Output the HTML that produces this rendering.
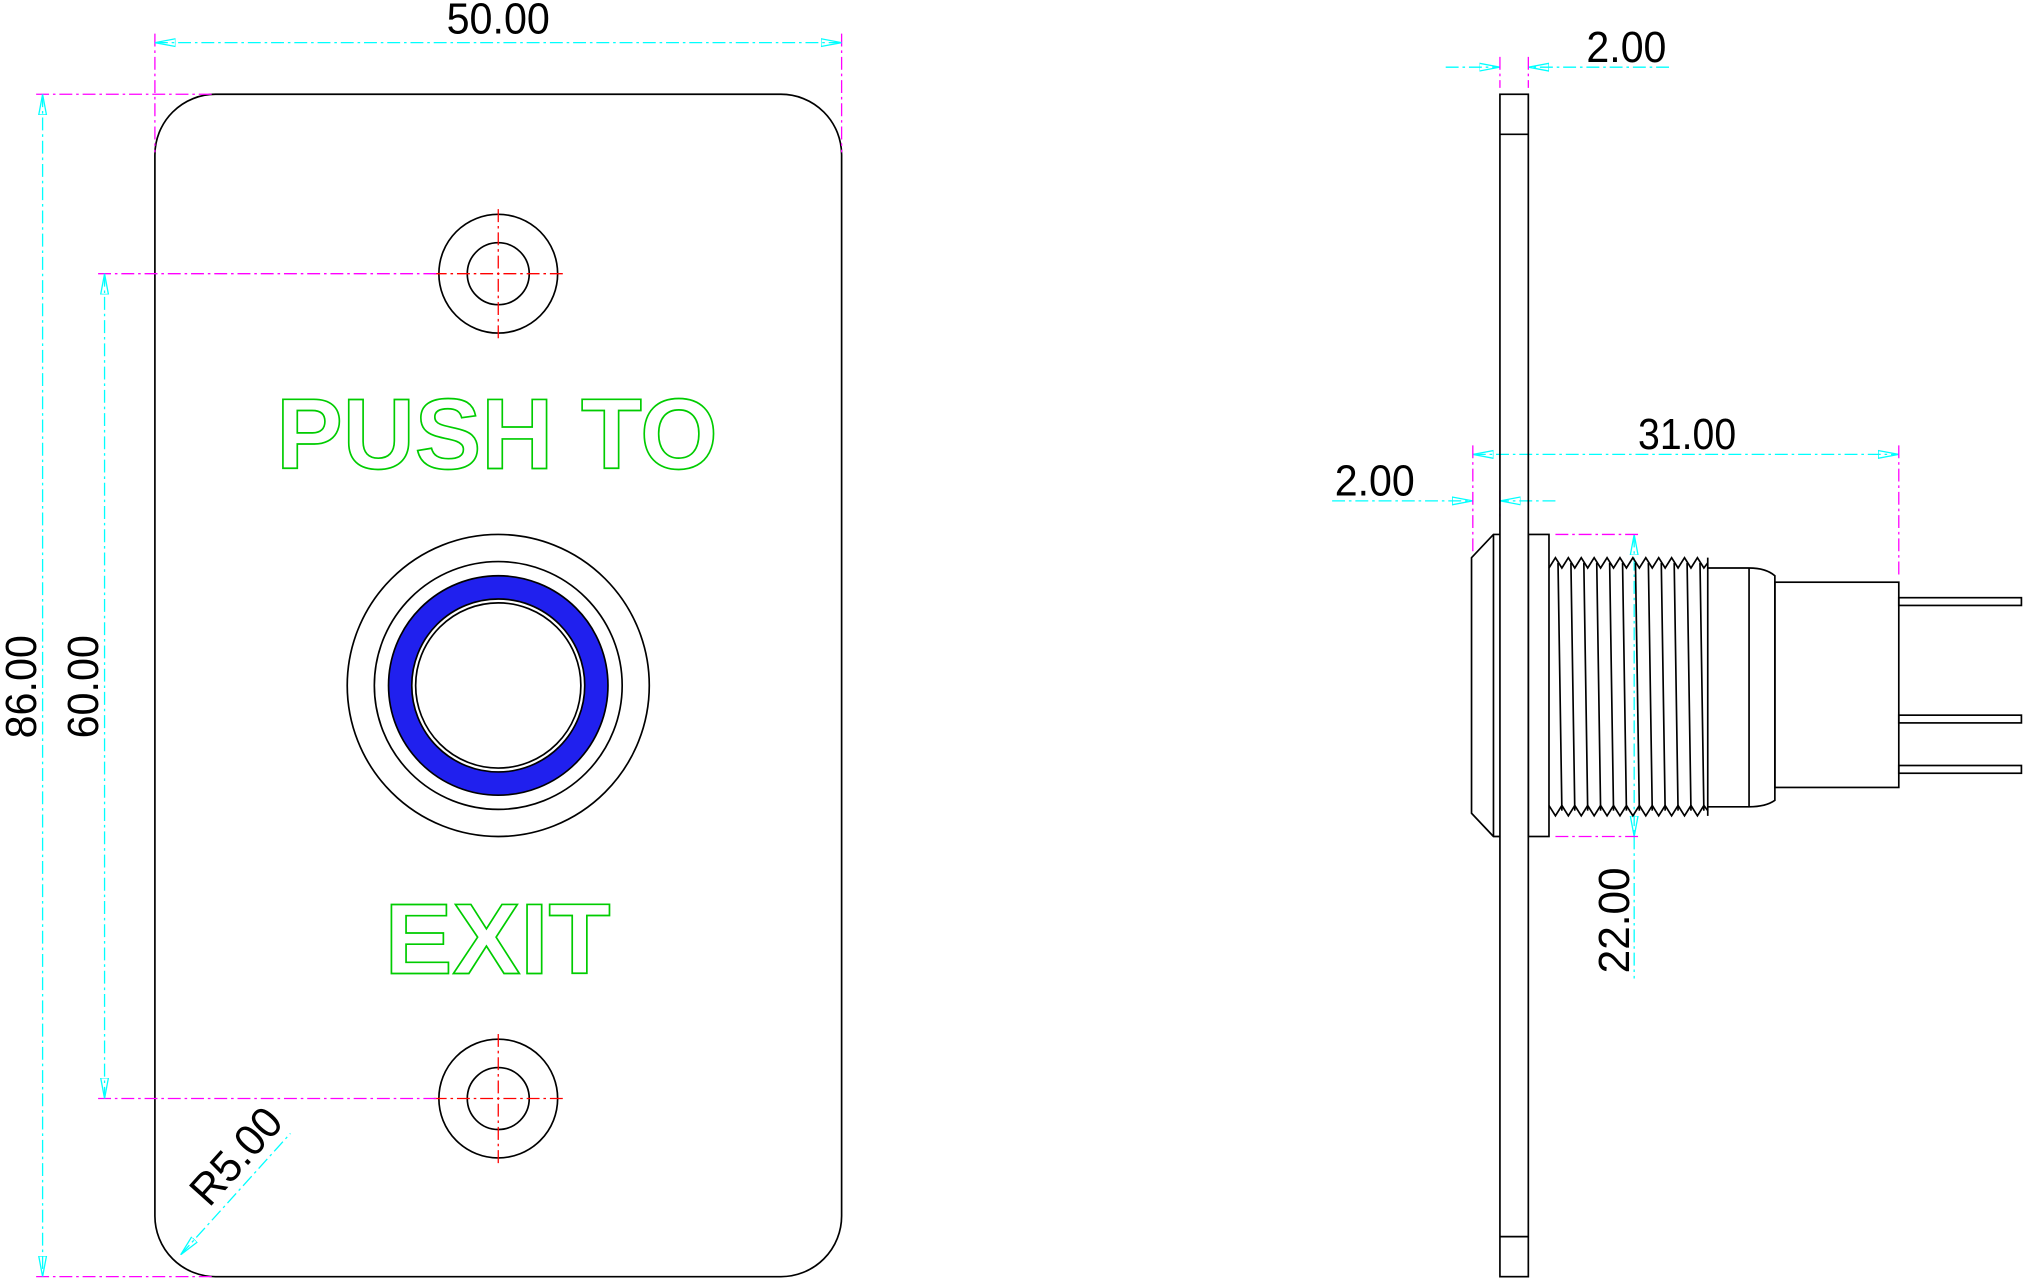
<!DOCTYPE html>
<html><head><style>html,body{margin:0;padding:0;background:#fff}svg{display:block}</style></head><body>
<svg width="2024" height="1278" viewBox="0 0 1568 990" xmlns="http://www.w3.org/2000/svg" font-family="Liberation Sans, sans-serif">
<defs>
<marker id="a" viewBox="0 0 16 8" refX="16" refY="4" markerWidth="16" markerHeight="8" markerUnits="userSpaceOnUse" orient="auto-start-reverse"><path d="M16,4 L0,1 L0,7 Z" fill="none" stroke="#0ff" stroke-width="1"/></marker>
</defs>
<g fill="none" stroke="#000" stroke-width="1.3">
<rect x="120" y="73" width="532" height="916" rx="47"/>
<circle cx="386" cy="212" r="46"/><circle cx="386" cy="212" r="24"/>
<circle cx="386" cy="851" r="46"/><circle cx="386" cy="851" r="24"/>
<circle cx="386" cy="531" r="117"/><circle cx="386" cy="531" r="96"/>
<circle cx="386" cy="531" r="76" stroke="#2020ee" stroke-width="18"/>
<circle cx="386" cy="531" r="85"/><circle cx="386" cy="531" r="67"/><circle cx="386" cy="531" r="64"/>
</g>
<g stroke="#f00" stroke-width="1" stroke-dasharray="10,3,2,3">
<line x1="386" y1="162" x2="386" y2="262"/><line x1="336" y1="212" x2="436" y2="212"/>
<line x1="386" y1="801" x2="386" y2="901"/><line x1="336" y1="851" x2="436" y2="851"/>
</g>
<g fill="none" stroke="#0c0" stroke-width="1.3" font-weight="bold">
<text x="214" y="363" font-size="78" textLength="342" lengthAdjust="spacingAndGlyphs">PUSH TO</text>
<text x="298" y="754" font-size="78" textLength="175" lengthAdjust="spacingAndGlyphs">EXIT</text>
</g>
<g stroke="#f0f" stroke-width="1" stroke-dasharray="10,3,2,3">
<line x1="120" y1="26" x2="120" y2="118"/><line x1="652" y1="26" x2="652" y2="118"/>
<line x1="28" y1="73" x2="165" y2="73"/><line x1="28" y1="989" x2="165" y2="989"/>
<line x1="76" y1="212" x2="340" y2="212"/><line x1="76" y1="851" x2="340" y2="851"/>
</g>
<g stroke="#0ff" stroke-width="1" stroke-dasharray="10,3,2,3" marker-start="url(#a)" marker-end="url(#a)">
<line x1="120" y1="33" x2="652" y2="33"/>
<line x1="33" y1="73" x2="33" y2="989"/>
<line x1="81" y1="212" x2="81" y2="851"/>
<line x1="140" y1="972" x2="225" y2="878" marker-end="none"/>
<line x1="1141" y1="352" x2="1471" y2="352"/>
<line x1="1266" y1="414" x2="1266" y2="648"/>
</g>
<g stroke="#0ff" stroke-width="1" stroke-dasharray="10,3,2,3">
<line x1="1120" y1="52" x2="1162" y2="52" marker-end="url(#a)"/>
<line x1="1293" y1="52" x2="1184" y2="52" marker-end="url(#a)"/>
<line x1="1032" y1="388" x2="1141" y2="388" marker-end="url(#a)"/>
<line x1="1205" y1="388" x2="1162" y2="388" marker-end="url(#a)"/>
<line x1="1266" y1="648" x2="1266" y2="758"/>
</g>
<g stroke="#f0f" stroke-width="1" stroke-dasharray="10,3,2,3">
<line x1="1162" y1="44" x2="1162" y2="68"/><line x1="1184" y1="44" x2="1184" y2="68"/>
<line x1="1141" y1="345" x2="1141" y2="430"/><line x1="1471" y1="345" x2="1471" y2="445"/>
<line x1="1162" y1="380" x2="1162" y2="400"/>
<line x1="1205" y1="414" x2="1272" y2="414"/><line x1="1205" y1="648" x2="1272" y2="648"/>
</g>
<g fill="#000" font-size="34">
<text x="346" y="26" textLength="80" lengthAdjust="spacingAndGlyphs">50.00</text>
<text transform="translate(28,572) rotate(-90)" textLength="80" lengthAdjust="spacingAndGlyphs">86.00</text>
<text transform="translate(76,572) rotate(-90)" textLength="80" lengthAdjust="spacingAndGlyphs">60.00</text>
<text transform="translate(162,936) rotate(-48)" textLength="88" lengthAdjust="spacingAndGlyphs">R5.00</text>
<text x="1229" y="48" textLength="62" lengthAdjust="spacingAndGlyphs">2.00</text>
<text x="1269" y="348" textLength="76" lengthAdjust="spacingAndGlyphs">31.00</text>
<text x="1034" y="384" textLength="62" lengthAdjust="spacingAndGlyphs">2.00</text>
<text transform="translate(1262,754) rotate(-90)" textLength="82" lengthAdjust="spacingAndGlyphs">22.00</text>
</g>
<g fill="none" stroke="#000" stroke-width="1.3">
<rect x="1162" y="73" width="22" height="916"/>
<line x1="1162" y1="104" x2="1184" y2="104"/><line x1="1162" y1="958" x2="1184" y2="958"/>
<path d="M1162,414 H1157 L1140,432 V630 L1157,648 H1162"/>
<line x1="1157" y1="414" x2="1157" y2="648"/>
<rect x="1184" y="414" width="16" height="234"/>
<path d="M1200,440 L1205,432 L1210,440 L1215,432 L1220,440 L1225,432 L1230,440 L1235,432 L1240,440 L1245,432 L1250,440 L1255,432 L1260,440 L1265,432 L1270,440 L1275,432 L1280,440 L1285,432 L1290,440 L1295,432 L1300,440 L1305,432 L1310,440 L1315,432 L1320,440 L1323,436"/>
<path d="M1200,624 L1205,632 L1210,624 L1215,632 L1220,624 L1225,632 L1230,624 L1235,632 L1240,624 L1245,632 L1250,624 L1255,632 L1260,624 L1265,632 L1270,624 L1275,632 L1280,624 L1285,632 L1290,624 L1295,632 L1300,624 L1305,632 L1310,624 L1315,632 L1320,624 L1323,628"/>
<line x1="1323" y1="432" x2="1323" y2="632"/>
<path d="M1207,436 L1210,628 M1217,436 L1220,628 M1227,436 L1230,628 M1237,436 L1240,628 M1247,436 L1250,628 M1257,436 L1260,628 M1267,436 L1270,628 M1277,436 L1280,628 M1287,436 L1290,628 M1297,436 L1300,628 M1307,436 L1310,628 M1317,436 L1320,628"/>
<path d="M1323,440 H1355 Q1368,440 1375,446 V620 Q1368,625 1355,625 H1323"/>
<line x1="1355" y1="440" x2="1355" y2="625"/>
<rect x="1375" y="451" width="96" height="159"/>
<rect x="1471" y="463" width="95" height="6"/>
<rect x="1471" y="554" width="95" height="6"/>
<rect x="1471" y="593" width="95" height="6"/>
</g>
</svg>
</body></html>
